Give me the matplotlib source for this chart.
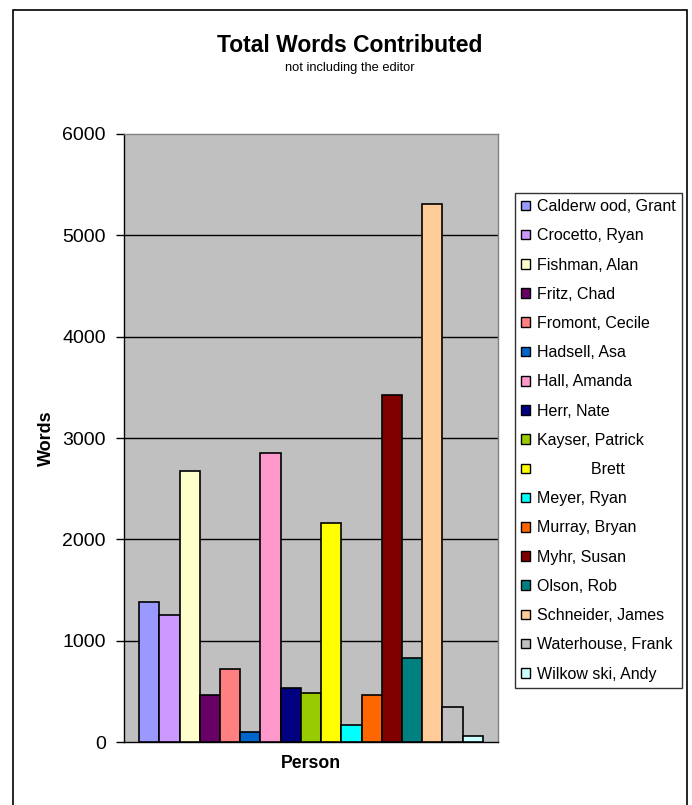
import matplotlib
matplotlib.use("Agg")
import matplotlib.pyplot as plt
from matplotlib.patches import Patch, Rectangle

people = ["Calderw ood, Grant", "Crocetto, Ryan", "Fishman, Alan", "Fritz, Chad",
          "Fromont, Cecile", "Hadsell, Asa", "Hall, Amanda", "Herr, Nate",
          "Kayser, Patrick", "            Brett", "Meyer, Ryan", "Murray, Bryan",
          "Myhr, Susan", "Olson, Rob", "Schneider, James", "Waterhouse, Frank",
          "Wilkow ski, Andy"]
words = [1385, 1250, 2670, 465, 725, 100, 2850, 530, 480, 2160, 168, 465,
         3425, 830, 5305, 350, 62]
colors = ["#9999FF", "#CC99FF", "#FFFFCC", "#660066", "#FF8080", "#0066CC",
          "#FF99CC", "#000080", "#99CC00", "#FFFF00", "#00FFFF", "#FF6600",
          "#800000", "#008080", "#FFCC99", "#C0C0C0", "#CCFFFF"]
yticks = [0, 1000, 2000, 3000, 4000, 5000, 6000]

plt.rcParams['font.family'] = ['Liberation Sans', 'DejaVu Sans']

fig = plt.figure(figsize=(6.92, 8.05), dpi=100)
fig.patch.set_facecolor("white")

# outer chart border
fig.add_artist(Rectangle((12.5/692, -0.05), (686.7-12.5)/692, 1.05 - 10/805,
                         transform=fig.transFigure, fill=False,
                         edgecolor="black", linewidth=1.2))

ax = fig.add_axes([124/692, 1-742/805, (498-124)/692, (742-134)/805])
ax.set_facecolor("#C0C0C0")
x = list(range(len(people)))
ax.bar(x, words, width=1.0, color=colors, edgecolor="black", linewidth=1.2, zorder=3)
ax.set_xlim(-1.255, len(people) - 1 + 1.255)
ax.set_ylim(0, 6000)
ax.set_yticks(yticks)
ax.set_yticklabels([str(v) for v in yticks], fontsize=14)
ax.tick_params(axis='y', direction='out', length=6, width=1, pad=7)
ax.set_xticks([])
for v in yticks[1:-1]:
    ax.axhline(v, color="black", linewidth=1, zorder=1)
ax.spines['left'].set_color('black')
ax.spines['bottom'].set_color('black')
ax.spines['top'].set_color('#808080')
ax.spines['right'].set_color('#808080')
for s in ax.spines.values():
    s.set_linewidth(1)
ax.set_ylabel("Words", fontsize=13, fontweight='bold', labelpad=5)
ax.set_xlabel("Person", fontsize=12.7, fontweight='bold', labelpad=9)

fig.text(0.5055, 1-45/805, "Total Words Contributed", ha='center', va='center',
         fontsize=16.5, fontweight='bold')
fig.text(0.5055, 1-68/805, "not including the editor", ha='center', va='center',
         fontsize=9.3)

handles = [Patch(facecolor=c, edgecolor='black', linewidth=1) for c in colors]
leg = fig.legend(handles, people, loc='upper left',
                 bbox_to_anchor=(515/692, 1-192.7/805, (681.7-515)/692, 0),
                 mode='expand', fontsize=11.5, frameon=True, fancybox=False,
                 edgecolor='black', borderaxespad=0, handlelength=0.55,
                 handleheight=0.55, handletextpad=0.42, labelspacing=0.89,
                 borderpad=0.4)
leg.get_frame().set_linewidth(1)

fig.savefig("out.png", dpi=100)
